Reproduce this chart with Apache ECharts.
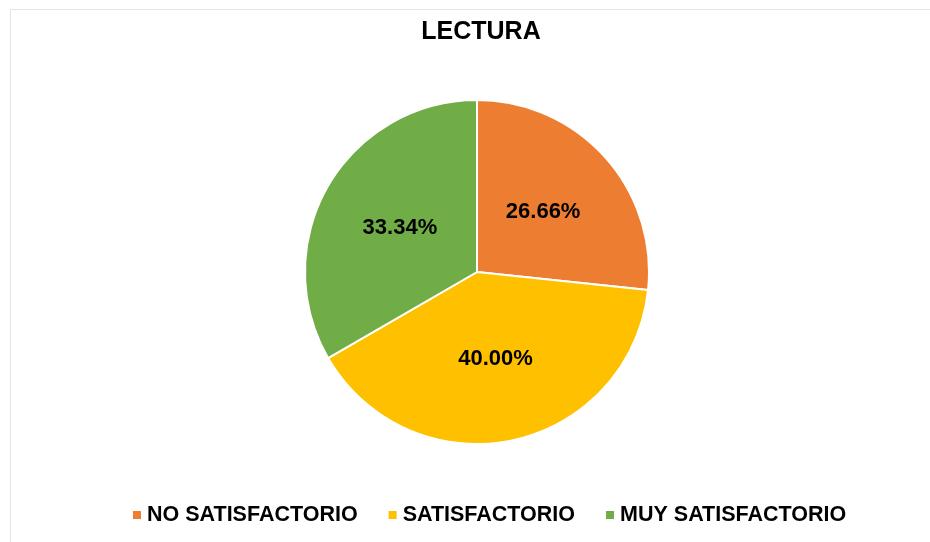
<!DOCTYPE html>
<html>
<head>
<meta charset="utf-8">
<script src="https://cdn.jsdelivr.net/npm/echarts@6/dist/echarts.min.js"></script>
<style>
    html, body { margin: 0; padding: 0; background: #fff; }
    #chart { width: 930px; height: 542px; }
    #frame { position: absolute; left: 10px; top: 9px; right: 0; bottom: 0; border-left: 1px solid #e4e4e4; border-top: 1px solid #e4e4e4; pointer-events: none; }
</style>
</head>
<body>
<div id="chart"></div>
<div id="frame"></div>
<script>
'use strict';
// datos del gráfico
const categorias = ['NO SATISFACTORIO', 'SATISFACTORIO', 'MUY SATISFACTORIO'];
const valores = [26.66, 40.00, 33.34];
const colores = ['#ED7D31', '#FFC000', '#70AD47'];

let myChart = echarts.init(document.getElementById('chart'));

let option = {
    animation: false,
    title: {
        text: 'LECTURA',
        left: 476,
        textAlign: 'center',
        top: 15,
        textStyle: {
            fontFamily: 'Liberation Sans',
            fontWeight: 'bold',
            fontSize: 25,
            color: '#000'
        }
    },
    legend: {
        bottom: 11,
        left: 126,
        itemWidth: 10,
        itemHeight: 10,
        itemGap: 29,
        icon: 'rect',
        textStyle: {
            fontFamily: 'Liberation Sans',
            fontWeight: 'bold',
            fontSize: 21.5,
            color: '#000'
        },
        data: categorias
    },
    series: [{
        type: 'pie',
        center: [477, 272],
        radius: 172,
        startAngle: 90,
        clockwise: true,
        color: colores,
        itemStyle: {
            borderColor: '#fff',
            borderWidth: 2
        },
        label: {
            position: 'inside',
            formatter: function(p) {
                return p.value.toFixed(2) + '%';
            },
            fontFamily: 'Liberation Sans',
            fontWeight: 'bold',
            fontSize: 22,
            color: '#000'
        },
        labelLine: { show: false },
        data: categorias.map(function(nombre, i) {
            return { name: nombre, value: valores[i] };
        })
    }]
};

myChart.setOption(option);
</script>
</body>
</html>
